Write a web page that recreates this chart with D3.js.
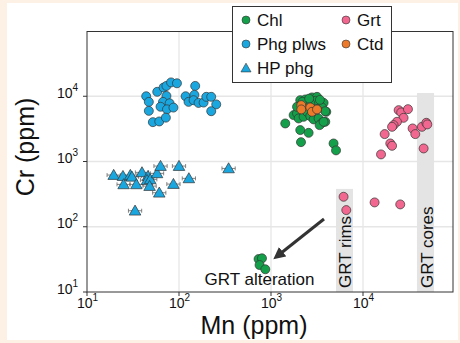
<!DOCTYPE html>
<html>
<head>
<meta charset="utf-8">
<script src="https://cdn.jsdelivr.net/npm/d3@7"></script>
<style>
  body { margin: 0; background: #fdf1e5; }
  svg { display: block; font-family: "Liberation Sans", Arial, sans-serif; }
</style>
</head>
<body>
<div id="chart"></div>
<script>
// Data: [Mn ppm, Cr ppm]
const phgPlws = [
  [44,10000],[47,8200],[47,5970],[52,4010],[61,4110],[58,11700],[68,13600],[73,14400],
  [82,16300],[95,15800],[73,10100],[67,8200],[79,7800],[63,6900],[74,6300],[87,6700],
  [72,4700],[150,14400],[118,10000],[127,8200],[147,10500],[144,8700],[163,7900],
  [185,8000],[198,9800],[224,9800],[254,7500],[224,5900]
];
const hpPhg = [
  [19.5,620],[24.6,597],[25,446],[29.6,620],[30.8,583],[34.4,446],[39.6,681],[46,597],
  [44.9,519],[48.7,532],[47.9,420],[57.7,658],[63,851],[61,332],[87,451],[100,851],
  [128,551],[346,783],[33.3,176]
];
const chl = [
  [2080,8710],[2360,8930],[2790,9590],[3162,9790],[3032,8510],[3730,7930],[3581,6740],
  [3990,5770],[3890,5900],[1762,5140],[1919,5460],[1995,4570],[2260,4840],[2460,5770],
  [2673,4960],[2904,4420],[3290,4570],[3581,3920],[3890,4060],[1919,6890],[2673,7760],
  [3162,6280],[1429,3830],[2080,3030],[2118,1980],[2564,2750],[4786,1890],[5090,1480],
  [3375,3610],[3730,4060],[2200,8200],[2600,9200],[3400,8800],
  [733,32],[798,32.8],[751,25.9],[867,22.3]
];
const ctd = [[2133,7310],[2133,6280],[2673,6740],[2790,5770],[3162,6280]];
const grt = [
  [24400,6120],[26000,5650],[30800,6340],[27600,4670],[23400,4060],[21500,3610],
  [20700,3400],[17200,2630],[19800,1890],[20700,1740],[15700,1285],[34600,3210],
  [37000,2630],[45600,1585],[43700,3400],[48800,3920],[50000,3700],
  [6150,288],[6580,180],[13370,236],[25400,220]
];
const hpErrFactor = 1.18;
const decades = [10, 100, 1000, 10000];
const bands = [
  {label: "GRT rims", x0: 5090, x1: 7780, top: 380},
  {label: "GRT cores", x0: 38600, x1: 59200, top: 11200}
];

const colors = {chl: "#14a04a", phg: "#1aa7e0", grt: "#f2678f", ctd: "#ec7a2a"};

const W = 460, H = 343;
const svg = d3.select("#chart").append("svg").attr("width", W).attr("height", H);

svg.append("rect").attr("x", 7).attr("y", 3).attr("width", 451).attr("height", 337).attr("fill", "white");

const x = d3.scaleLog().domain([10, 100000]).range([87, 455]);
const y = d3.scaleLog().domain([10, 100000]).range([292, 31]);
const pL = 87, pR = 453, pT = 31.5, pB = 292;

// gridlines
svg.append("g").selectAll("line").data(decades.slice(1)).enter().append("line")
  .attr("x1", d => x(d)).attr("x2", d => x(d)).attr("y1", pT).attr("y2", pB)
  .attr("stroke", "#e6e6e6").attr("stroke-width", 1.3);
svg.append("g").selectAll("line").data(decades.slice(1)).enter().append("line")
  .attr("y1", d => y(d)).attr("y2", d => y(d)).attr("x1", pL).attr("x2", pR)
  .attr("stroke", "#e6e6e6").attr("stroke-width", 1.3);

// grey bands
bands.forEach(b => {
  svg.append("rect").attr("x", x(b.x0)).attr("width", x(b.x1) - x(b.x0))
    .attr("y", y(b.top)).attr("height", pB - y(b.top)).attr("fill", "#e4e4e4");
  svg.append("text")
    .attr("transform", `translate(${x(b.x1) - 1.5},${pB - 4}) rotate(-90)`)
    .attr("font-size", 17).attr("fill", "#111").text(b.label);
});

// frame
svg.append("rect").attr("x", pL).attr("y", pT).attr("width", pR - pL).attr("height", pB - pT)
  .attr("fill", "none").attr("stroke", "#333").attr("stroke-width", 1);

// ticks + labels
function supLabel(sel, exp) {
  sel.append("tspan").text("10");
  sel.append("tspan").attr("dy", -7).attr("font-size", 10).text(exp);
}
decades.forEach((d, i) => {
  svg.append("line").attr("x1", x(d)).attr("x2", x(d)).attr("y1", pB).attr("y2", pB + 4).attr("stroke", "#333");
  supLabel(svg.append("text").attr("x", x(d) - 10).attr("y", pB + 16).attr("font-size", 14).attr("fill", "#111"), i + 1);
  svg.append("line").attr("x1", pL - 4).attr("x2", pL).attr("y1", y(d)).attr("y2", y(d)).attr("stroke", "#333");
  supLabel(svg.append("text").attr("x", pL - 30).attr("y", y(d) + 1.5).attr("font-size", 14).attr("fill", "#111"), i + 1);
});

svg.append("text").attr("x", 254).attr("y", 334).attr("text-anchor", "middle")
  .attr("font-size", 25).attr("fill", "#111").text("Mn (ppm)");
svg.append("text").attr("transform", `translate(34,147) rotate(-90)`).attr("text-anchor", "middle")
  .attr("font-size", 25).attr("fill", "#111").text("Cr (ppm)");

// arrow
svg.append("defs").append("marker").attr("id", "ah").attr("viewBox", "0 0 10 10")
  .attr("refX", 5).attr("refY", 5).attr("markerWidth", 4).attr("markerHeight", 4)
  .attr("orient", "auto").append("path").attr("d", "M0,0 L10,5 L0,10 z").attr("fill", "#333");
svg.append("line").attr("x1", 324).attr("y1", 219).attr("x2", 278).attr("y2", 255.5)
  .attr("stroke", "#333").attr("stroke-width", 3).attr("marker-end", "url(#ah)");
svg.append("text").attr("x", 259.5).attr("y", 285).attr("text-anchor", "middle")
  .attr("font-size", 17).attr("fill", "#111").text("GRT alteration");

// HP phg error bars
const eb = svg.append("g").attr("stroke", "#666").attr("stroke-width", 0.8);
hpPhg.forEach(d => {
  const x0 = x(d[0] / hpErrFactor), x1 = x(d[0] * hpErrFactor), yy = y(d[1]);
  eb.append("line").attr("x1", x0).attr("x2", x1).attr("y1", yy).attr("y2", yy);
  eb.append("line").attr("x1", x0).attr("x2", x0).attr("y1", yy - 2).attr("y2", yy + 2);
  eb.append("line").attr("x1", x1).attr("x2", x1).attr("y1", yy - 2).attr("y2", yy + 2);
});

const tri = d3.symbol().type(d3.symbolTriangle).size(58);
function dots(data, fill) {
  svg.append("g").selectAll("circle").data(data).enter().append("circle")
    .attr("cx", d => x(d[0])).attr("cy", d => y(d[1])).attr("r", 4.5)
    .attr("fill", fill).attr("stroke", "#333").attr("stroke-width", 0.7);
}
svg.append("g").selectAll("path").data(hpPhg).enter().append("path")
  .attr("d", tri).attr("transform", d => `translate(${x(d[0])},${y(d[1]) + 1})`)
  .attr("fill", colors.phg).attr("stroke", "#333").attr("stroke-width", 0.7);
dots(phgPlws, colors.phg);
dots(chl, colors.chl);
dots(ctd, colors.ctd);
dots(grt, colors.grt);

// legend
const lg = svg.append("g");
lg.append("rect").attr("x", 232.5).attr("y", 6.5).attr("width", 159).attr("height", 76)
  .attr("fill", "white").attr("stroke", "#333").attr("stroke-width", 1);
const items = [
  {t: "Chl", c: colors.chl, x: 246, y: 20},
  {t: "Phg plws", c: colors.phg, x: 246, y: 44},
  {t: "HP phg", c: colors.phg, x: 246, y: 68, tri: true},
  {t: "Grt", c: colors.grt, x: 346, y: 20},
  {t: "Ctd", c: colors.ctd, x: 346, y: 44}
];
items.forEach(it => {
  if (it.tri) {
    lg.append("path").attr("d", d3.symbol().type(d3.symbolTriangle).size(44))
      .attr("transform", `translate(${it.x},${it.y + 1})`).attr("fill", it.c).attr("stroke", "#333").attr("stroke-width", 0.6);
  } else {
    lg.append("circle").attr("cx", it.x).attr("cy", it.y).attr("r", 4).attr("fill", it.c)
      .attr("stroke", "#333").attr("stroke-width", 0.6);
  }
  lg.append("text").attr("x", it.x + 11).attr("y", it.y + 6).attr("font-size", 17).attr("fill", "#111").text(it.t);
});
</script>
</body>
</html>
